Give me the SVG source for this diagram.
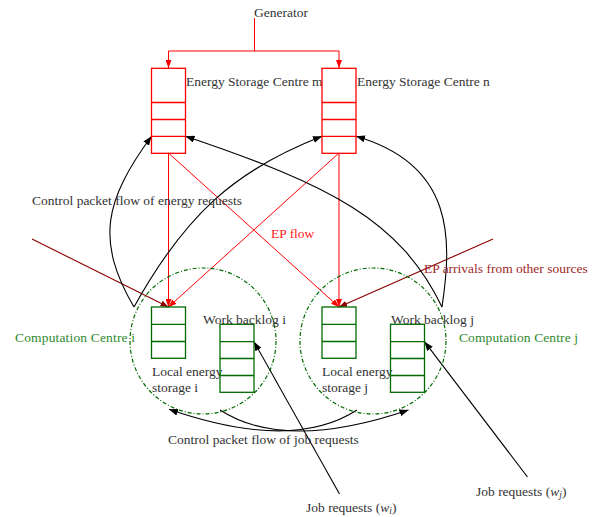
<svg xmlns="http://www.w3.org/2000/svg" width="597" height="517" viewBox="0 0 597 517" font-family="'Liberation Serif', 'DejaVu Serif', serif">
<style>
text{font-family:'Liberation Serif','DejaVu Serif',serif;font-size:13.5px;fill:#333}
.red{fill:#ff2020}
.dred{fill:#a02828}
.grn{fill:#2f8a2f}
.rbox{fill:none;stroke:#ff0000;stroke-width:1.3}
.gbox{fill:none;stroke:#006a00;stroke-width:1.3}
.circ{fill:none;stroke:#006a00;stroke-width:1.2;stroke-dasharray:4 2 1 2}
.rl{fill:none;stroke:#ff0000;stroke-width:1}
.dl{fill:none;stroke:#8b0000;stroke-width:1.1}
.bl{fill:none;stroke:#000;stroke-width:1.1}
</style>
<defs>
<marker id="ab" markerUnits="userSpaceOnUse" markerWidth="9" markerHeight="7" viewBox="0 0 9 7" refX="9" refY="3.5" orient="auto"><path d="M0,0 L9,3.5 L0,7 z" fill="#000"/></marker>
<marker id="ar" markerUnits="userSpaceOnUse" markerWidth="8" markerHeight="6" viewBox="0 0 8 6" refX="8" refY="3" orient="auto"><path d="M0,0 L8,3 L0,6 z" fill="#ff0000"/></marker>
<marker id="ad" markerUnits="userSpaceOnUse" markerWidth="8" markerHeight="6" viewBox="0 0 8 6" refX="8" refY="3" orient="auto"><path d="M0,0 L8,3 L0,6 z" fill="#8b0000"/></marker>
</defs>

<g id="connectors">
<path class="rl" d="M254.5,18 V51 M168.5,51 H339"/>
<path class="rl" d="M168.5,51 V68" marker-end="url(#ar)"/>
<path class="rl" d="M339,51 V68" marker-end="url(#ar)"/>
<path class="rl" d="M168.5,153 V307" marker-end="url(#ar)"/>
<path class="rl" d="M168.5,153 L339,307" marker-end="url(#ar)"/>
<path class="rl" d="M339,153 V307" marker-end="url(#ar)"/>
<path class="rl" d="M339,153 L168.5,307" marker-end="url(#ar)"/>
<path class="dl" d="M32,239 L168.5,307" marker-end="url(#ad)"/>
<path class="dl" d="M493,239 L339,307" marker-end="url(#ad)"/>
<path class="bl" d="M134,307 C95,240 105,200 151.5,136.3" marker-end="url(#ab)"/>
<path class="bl" d="M134,307 C185,215 235,170 322,136.3" marker-end="url(#ab)"/>
<path class="bl" d="M442,307 C452,240 455,165 356,136.3" marker-end="url(#ab)"/>
<path class="bl" d="M442,307 C400,220 330,185 185.5,136.3" marker-end="url(#ab)"/>
<path class="bl" d="M339.5,494 L254,341.7" marker-end="url(#ab)"/>
<path class="bl" d="M527.5,477 L424.5,341.7" marker-end="url(#ab)"/>
<path class="bl" d="M220,410 Q285,452 408.5,410" marker-end="url(#ab)"/>
<path class="bl" d="M357,410 Q292,452 169,409.3" marker-end="url(#ab)"/>
</g>

<g id="generator"><text x="254" y="17">Generator</text></g>

<g id="storage-m">
<rect class="rbox" x="151.5" y="68.3" width="34" height="85"/>
<path class="rbox" d="M151.5,102.5 H185.5 M151.5,119.5 H185.5 M151.5,136.3 H185.5"/>
<text x="186" y="86">Energy Storage Centre m</text>
</g>

<g id="storage-n">
<rect class="rbox" x="322" y="68.3" width="34" height="85"/>
<path class="rbox" d="M322,102.5 H356 M322,119.5 H356 M322,136.3 H356"/>
<text x="357" y="86">Energy Storage Centre n</text>
</g>

<g id="labels">
<text x="32" y="205">Control packet flow of energy requests</text>
<text class="red" x="271" y="238">EP flow</text>
<text class="dred" x="424" y="272.5">EP arrivals from other sources</text>
<text x="168" y="444">Control packet flow of job requests</text>
</g>

<g id="centre-i">
<circle class="circ" cx="203" cy="341" r="73"/>
<text class="grn" x="15" y="341.5" textLength="120" lengthAdjust="spacing">Computation Centre i</text>
</g>
<g id="local-storage-i">
<rect class="gbox" x="151.5" y="307" width="34" height="51.3"/>
<path class="gbox" d="M151.5,324.3 H185.5 M151.5,341.5 H185.5"/>
<text x="152" y="376">Local energy</text>
<text x="152" y="392">storage i</text>
</g>
<g id="backlog-i">
<rect class="gbox" x="220" y="324.3" width="34" height="68"/>
<path class="gbox" d="M220,341.7 H254 M220,358.5 H254 M220,375.5 H254"/>
<text x="203" y="324">Work backlog i</text>
</g>

<g id="centre-j">
<circle class="circ" cx="373" cy="341" r="73"/>
<text class="grn" x="459" y="341.5" textLength="119" lengthAdjust="spacing">Computation Centre j</text>
</g>
<g id="local-storage-j">
<rect class="gbox" x="322" y="307" width="34" height="51.3"/>
<path class="gbox" d="M322,324.3 H356 M322,341.5 H356"/>
<text x="322" y="376">Local energy</text>
<text x="322" y="392">storage j</text>
</g>
<g id="backlog-j">
<rect class="gbox" x="390.5" y="324.3" width="34" height="68"/>
<path class="gbox" d="M390.5,341.7 H424.5 M390.5,358.5 H424.5 M390.5,375.5 H424.5"/>
<text x="391" y="324">Work backlog j</text>
</g>

<g id="job-requests-i"><text x="306" y="511.5">Job requests (<tspan font-style="italic">w</tspan><tspan font-style="italic" font-size="9.5" dy="2">i</tspan><tspan dy="-2">)</tspan></text></g>
<g id="job-requests-j"><text x="476" y="496">Job requests (<tspan font-style="italic">w</tspan><tspan font-style="italic" font-size="9.5" dy="2">j</tspan><tspan dy="-2">)</tspan></text></g>
</svg>
